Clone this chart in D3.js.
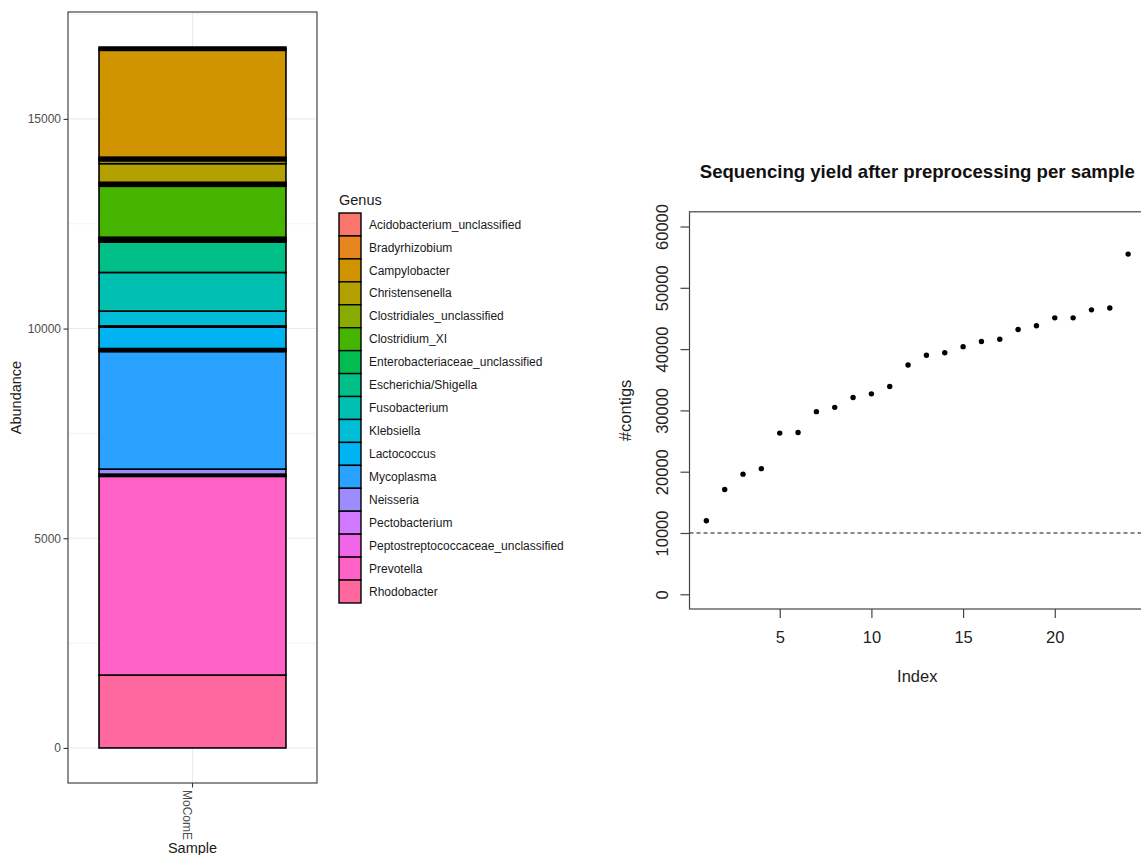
<!DOCTYPE html>
<html>
<head>
<meta charset="utf-8">
<script src="https://cdnjs.cloudflare.com/ajax/libs/d3/7.8.5/d3.min.js"></script>
<style>
body { margin: 0; background: #fff; }
svg { display: block; font-family: "Liberation Sans", Arial, sans-serif; }
</style>
</head>
<body>
<script>
// ---- left panel: abundance per genus (one sample) ----
var genera = ["Acidobacterium_unclassified", "Bradyrhizobium", "Campylobacter", "Christensenella",
  "Clostridiales_unclassified", "Clostridium_XI", "Enterobacteriaceae_unclassified", "Escherichia/Shigella",
  "Fusobacterium", "Klebsiella", "Lactococcus", "Mycoplasma", "Neisseria", "Pectobacterium",
  "Peptostreptococcaceae_unclassified", "Prevotella", "Rhodobacter"];
var sampleName = ["MoComE"];

// OTUs from the bottom of the stack to the top
var otuGenus = ["Rhodobacter", "Prevotella", "Peptostreptococcaceae_unclassified", "Pectobacterium",
  "Neisseria", "Mycoplasma", "Lactococcus", "Lactococcus", "Lactococcus", "Lactococcus",
  "Klebsiella", "Klebsiella", "Fusobacterium", "Escherichia/Shigella",
  "Enterobacteriaceae_unclassified", "Enterobacteriaceae_unclassified", "Enterobacteriaceae_unclassified",
  "Enterobacteriaceae_unclassified", "Clostridium_XI",
  "Clostridiales_unclassified", "Clostridiales_unclassified", "Clostridiales_unclassified",
  "Christensenella", "Christensenella", "Campylobacter", "Campylobacter", "Campylobacter", "Campylobacter",
  "Bradyrhizobium", "Acidobacterium_unclassified"];
var otuAbundance = [1738, 4738, 26, 27,
  121, 2802, 24, 24, 24, 512,
  28, 353, 921, 722,
  30, 30, 30,
  29, 1214,
  32, 32, 31,
  445, 70, 28, 28, 28, 2548,
  40, 38];
var abundanceTicks = [0, 5000, 10000, 15000];
var abundanceMinor = [2500, 7500, 12500, 17500];

// ---- right panel: contigs per sample ----
var contigs = [12000, 17100, 19600, 20500, 26300, 26400, 29800, 30500, 32100, 32700, 33900, 37400,
  39000, 39400, 40400, 41250, 41600, 43200, 43800, 45100, 45100, 46400, 46700, 55500];
var indexTicks = [5, 10, 15, 20];
var contigTicks = [0, 10000, 20000, 30000, 40000, 50000, 60000];
var contigThreshold = 10000;

// ggplot default hue palette (R hcl, polar Luv)
function hclR(h, c, l) {
  var Xn = 95.047, Yn = 100, Zn = 108.883;
  var hr = h * Math.PI / 180;
  var U = c * Math.cos(hr), V = c * Math.sin(hr);
  var Y = l > 7.999592 ? Yn * Math.pow((l + 16) / 116, 3) : Yn * l / 903.3;
  var t = Xn + Yn + Zn, xw = Xn / t, yw = Yn / t;
  var uN = 2 * xw / (6 * yw - xw + 1.5), vN = 4.5 * yw / (6 * yw - xw + 1.5);
  var u = U / (13 * l) + uN, v = V / (13 * l) + vN;
  var X = 9 * Y * u / (4 * v);
  var Z = -X / 3 - 5 * Y + 3 * Y / v;
  function g(a) { a = a > 0.00304 ? 1.055 * Math.pow(a, 1 / 2.4) - 0.055 : 12.92 * a; return Math.round(255 * Math.max(0, Math.min(1, a))); }
  return d3.rgb(g((3.240479 * X - 1.537150 * Y - 0.498535 * Z) / Yn),
    g((-0.969256 * X + 1.875992 * Y + 0.041556 * Z) / Yn),
    g((0.055648 * X - 0.204043 * Y + 1.057311 * Z) / Yn)).formatHex();
}
var hues = genera.map(function(d, i) { return hclR(15 + 360 * i / genera.length, 100, 65); });
var colour = d3.scaleOrdinal().domain(genera).range(hues);

var svg = d3.select("body").append("svg")
  .attr("width", 1141)
  .attr("height", 855);

// ---------------- left: stacked bar ----------------
var panel = {left: 68, right: 317, top: 12, bottom: 783};
var total = d3.sum(otuAbundance);

var y = d3.scaleLinear()
  .domain([-0.05 * total, 1.05 * total])
  .range([panel.bottom, panel.top]);
var x = d3.scaleBand()
  .domain(sampleName)
  .range([panel.left, panel.right])
  .paddingInner(0)
  .paddingOuter(0.166);

var stacked = [], acc = 0;
otuAbundance.forEach(function(v, i) {
  stacked.push({genus: otuGenus[i], y0: acc, y1: acc + v});
  acc += v;
});

var left = svg.append("g");

left.selectAll("line.minor").data(abundanceMinor).enter().append("line")
  .attr("x1", panel.left).attr("x2", panel.right)
  .attr("y1", function(d) { return y(d); }).attr("y2", function(d) { return y(d); })
  .style("stroke", "#ebebeb").style("stroke-width", 0.6);
left.selectAll("line.major").data(abundanceTicks).enter().append("line")
  .attr("x1", panel.left).attr("x2", panel.right)
  .attr("y1", function(d) { return y(d); }).attr("y2", function(d) { return y(d); })
  .style("stroke", "#ebebeb").style("stroke-width", 1.1);
left.selectAll("line.vmajor").data(sampleName).enter().append("line")
  .attr("x1", function(d) { return x(d) + x.bandwidth() / 2; })
  .attr("x2", function(d) { return x(d) + x.bandwidth() / 2; })
  .attr("y1", panel.top).attr("y2", panel.bottom)
  .style("stroke", "#ebebeb").style("stroke-width", 1.1);

left.selectAll("rect.otu").data(stacked).enter().append("rect")
  .attr("x", x(sampleName[0]))
  .attr("width", x.bandwidth())
  .attr("y", function(d) { return y(d.y1); })
  .attr("height", function(d) { return y(d.y0) - y(d.y1); })
  .style("fill", function(d) { return colour(d.genus); })
  .style("stroke", "#000")
  .style("stroke-width", 1.6);

left.append("rect")
  .attr("x", panel.left).attr("y", panel.top)
  .attr("width", panel.right - panel.left).attr("height", panel.bottom - panel.top)
  .style("fill", "none").style("stroke", "#333").style("stroke-width", 1.1);

var yAxisL = left.append("g")
  .attr("transform", "translate(" + panel.left + ",0)")
  .call(d3.axisLeft(y).tickValues(abundanceTicks).tickFormat(d3.format("d")).tickSize(4.5).tickPadding(2.5));
yAxisL.select(".domain").remove();
yAxisL.selectAll("line").style("stroke", "#333").style("stroke-width", 1.1);
yAxisL.selectAll("text").style("fill", "#4d4d4d").style("font-size", "12px").style("font-family", null);

var xAxisL = left.append("g")
  .attr("transform", "translate(0," + panel.bottom + ")")
  .call(d3.axisBottom(x).tickSize(4.5));
xAxisL.select(".domain").remove();
xAxisL.selectAll("line").style("stroke", "#333").style("stroke-width", 1.1);
xAxisL.selectAll("text")
  .attr("y", 0).attr("x", 7).attr("dy", "0.8em")
  .attr("transform", "rotate(90)")
  .style("text-anchor", "start")
  .style("fill", "#4d4d4d").style("font-size", "12px").style("font-family", null);

left.append("text")
  .attr("transform", "translate(21," + (panel.top + panel.bottom) / 2 + ") rotate(-90)")
  .attr("text-anchor", "middle")
  .style("font-size", "14.5px").style("fill", "#1a1a1a")
  .text("Abundance");
left.append("text")
  .attr("x", x(sampleName[0]) + x.bandwidth() / 2).attr("y", 853)
  .attr("text-anchor", "middle")
  .style("font-size", "14.5px").style("fill", "#1a1a1a")
  .text("Sample");

// legend
var legend = svg.append("g").attr("transform", "translate(339,0)");
legend.append("text")
  .attr("x", 0).attr("y", 205)
  .style("font-size", "14.5px").style("fill", "#1a1a1a")
  .text("Genus");
var keyH = 22.94, keyTop = 213;
var keys = legend.selectAll("g.key").data(genera).enter().append("g")
  .attr("transform", function(d, i) { return "translate(0," + (keyTop + i * keyH) + ")"; });
keys.append("rect")
  .attr("width", 22).attr("height", keyH)
  .style("fill", function(d) { return colour(d); })
  .style("stroke", "#000").style("stroke-width", 1.4);
keys.append("text")
  .attr("x", 30).attr("y", keyH / 2).attr("dy", "0.35em")
  .style("font-size", "12px").style("fill", "#1a1a1a")
  .text(function(d) { return d; });

// ---------------- right: base-style scatter ----------------
var plot = {left: 689.5, right: 1145, top: 211.8, bottom: 609};
var n = contigs.length;
var points = contigs.map(function(v, i) { return {index: i + 1, value: v}; });
var yMax = d3.max(contigTicks);

var xi = d3.scaleLinear()
  .domain([1 - 0.04 * (n - 1), n + 0.04 * (n - 1)])
  .range([plot.left, plot.right]);
var yc = d3.scaleLinear()
  .domain([-0.04 * yMax, 1.04 * yMax])
  .range([plot.bottom, plot.top]);

var right = svg.append("g");

right.append("line")
  .attr("x1", plot.left).attr("x2", plot.right)
  .attr("y1", yc(contigThreshold)).attr("y2", yc(contigThreshold))
  .style("stroke", "#111").style("stroke-width", 1).style("stroke-dasharray", "4,3");

right.selectAll("circle").data(points).enter().append("circle")
  .attr("cx", function(d) { return xi(d.index); })
  .attr("cy", function(d) { return yc(d.value); })
  .attr("r", 2.7)
  .style("fill", "#000");

right.append("rect")
  .attr("x", plot.left).attr("y", plot.top)
  .attr("width", plot.right - plot.left).attr("height", plot.bottom - plot.top)
  .style("fill", "none").style("stroke", "#444").style("stroke-width", 1.2);

var xAxisR = right.append("g")
  .attr("transform", "translate(0," + plot.bottom + ")")
  .call(d3.axisBottom(xi).tickValues(indexTicks).tickFormat(d3.format("d")).tickSize(9).tickPadding(13));
xAxisR.select(".domain").remove();
xAxisR.selectAll("line").style("stroke", "#444").style("stroke-width", 1.2);
xAxisR.selectAll("text").style("fill", "#222").style("font-size", "16.5px").style("font-family", null);

var yAxisR = right.append("g")
  .attr("transform", "translate(" + plot.left + ",0)")
  .call(d3.axisLeft(yc).tickValues(contigTicks).tickFormat(d3.format("d")).tickSize(9));
yAxisR.select(".domain").remove();
yAxisR.selectAll("line").style("stroke", "#444").style("stroke-width", 1.2);
yAxisR.selectAll("text")
  .attr("x", 0).attr("dy", 0)
  .attr("transform", "translate(-22,0) rotate(-90)")
  .style("text-anchor", "middle")
  .style("fill", "#222").style("font-size", "16.5px").style("font-family", null);

right.append("text")
  .attr("x", (plot.left + plot.right) / 2).attr("y", 178)
  .attr("text-anchor", "middle")
  .style("font-size", "18.6px").style("font-weight", "bold").style("fill", "#111")
  .text("Sequencing yield after preprocessing per sample");
right.append("text")
  .attr("x", (plot.left + plot.right) / 2).attr("y", 682)
  .attr("text-anchor", "middle")
  .style("font-size", "16.5px").style("fill", "#222")
  .text("Index");
right.append("text")
  .attr("transform", "translate(631," + (plot.top + plot.bottom) / 2 + ") rotate(-90)")
  .attr("text-anchor", "middle")
  .style("font-size", "16.5px").style("fill", "#222")
  .text("#contigs");
</script>
</body>
</html>
